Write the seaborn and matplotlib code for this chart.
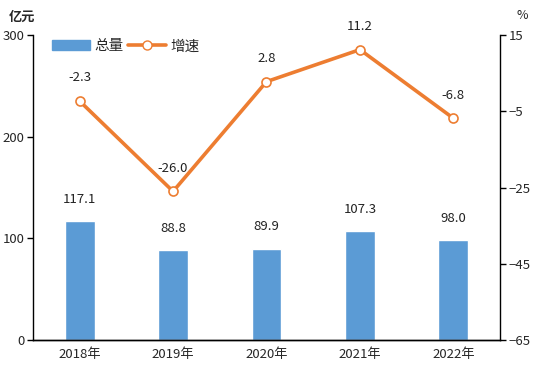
import matplotlib
matplotlib.use("Agg")
import matplotlib.pyplot as plt
import numpy as np
import pandas as pd
import seaborn as sns
from matplotlib.lines import Line2D
from matplotlib.patches import Patch

years = ["2018年", "2019年", "2020年", "2021年", "2022年"]
total = [117.1, 88.8, 89.9, 107.3, 98.0]
growth = [-2.3, -26.0, 2.8, 11.2, -6.8]

BAR_COLOR = "#5B9BD5"
LINE_COLOR = "#ED7D31"

sns.set_theme(style="white")
plt.rcParams["font.family"] = ["Noto Sans CJK SC", "DejaVu Sans"]
plt.rcParams["font.size"] = 9.5

df = pd.DataFrame({"year": years, "total": total, "growth": growth})

fig = plt.figure(figsize=(5.4, 3.7), dpi=100)
ax = fig.add_axes([0.061, 0.081, 0.865, 0.824])

sns.barplot(data=df, x="year", y="total", color=BAR_COLOR, width=0.32,
            saturation=1, ax=ax)
ax.set_ylim(0, 300)
ax.set_xlim(-0.5, 4.5)
ax.set_yticks([0, 100, 200, 300])
ax.set_xlabel("")
ax.set_ylabel("")
for i, v in enumerate(total):
    ax.annotate(f"{v:.1f}", (i, v), xytext=(0, 11), textcoords="offset points",
                ha="center", va="bottom", fontsize=9.5, color="#222222")

ax2 = ax.twinx()
x = np.arange(len(years))
ax2.plot(x, growth, color=LINE_COLOR, lw=2.6, marker="o", ms=6.5,
         mfc="white", mec=LINE_COLOR, mew=1.2, zorder=3)
ax2.set_ylim(-65, 15)
ax2.set_yticks([15, -5, -25, -45, -65])
for i, v in enumerate(growth):
    ax2.annotate(f"{v:.1f}", (i, v), xytext=(0, 12), textcoords="offset points",
                 ha="center", va="bottom", fontsize=9.5, color="#222222")

for a in (ax, ax2):
    a.spines["top"].set_visible(False)
    for s in ("left", "right", "bottom"):
        a.spines[s].set_color("black")
        a.spines[s].set_linewidth(1.0)
    a.grid(False)
ax2.spines["left"].set_visible(False)
ax.spines["right"].set_visible(False)

ax.tick_params(axis="y", direction="out", length=4, width=1, color="black",
               labelsize=9.5, pad=2, left=True)
ax.tick_params(axis="x", length=0, labelsize=9.5, pad=6)
ax2.tick_params(axis="y", direction="out", length=4, width=1, color="black",
                labelsize=9.5, pad=2, right=True)

fig.text(0.04, 0.955, "亿元", ha="center", va="center", fontsize=9.5,
         fontweight="bold")
fig.text(0.968, 0.957, "%", ha="center", va="center", fontsize=9)

handles = [
    Patch(facecolor=BAR_COLOR, edgecolor=BAR_COLOR, label="总量"),
    Line2D([0], [0], color=LINE_COLOR, lw=2.6, marker="o", ms=6.5,
           mfc="white", mec=LINE_COLOR, label="增速"),
]
ax.legend(handles=handles, loc="upper left", bbox_to_anchor=(0.013, 1.029),
          ncol=2, frameon=False, fontsize=10.5, handlelength=2.6,
          handletextpad=0.3, columnspacing=0.3, handleheight=0.7)

fig.savefig("out.png", dpi=100)
